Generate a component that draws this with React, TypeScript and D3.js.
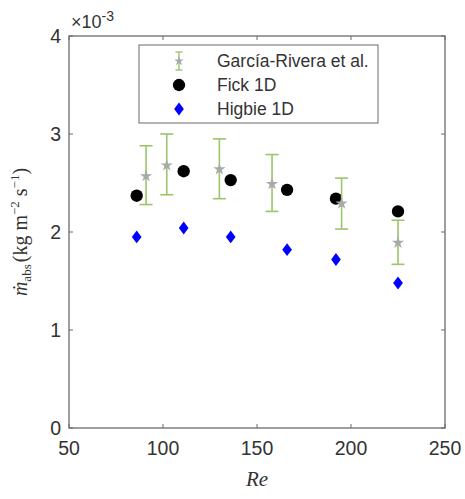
import React from "react";
import * as d3 from "d3";

// ---- data (values in units of 1e-3 kg m^-2 s^-1) ----
const reGR = [91, 102, 130, 158, 195, 225];
const grMean = [2.57, 2.68, 2.64, 2.49, 2.29, 1.89];
const grLow = [2.28, 2.38, 2.34, 2.21, 2.03, 1.67];
const grHigh = [2.88, 3.0, 2.95, 2.79, 2.55, 2.12];

const reModel = [86, 111, 136, 166, 192, 225];
const fick1D = [2.37, 2.62, 2.53, 2.43, 2.34, 2.21];
const higbie1D = [1.95, 2.04, 1.95, 1.82, 1.72, 1.48];

const xTicks = [50, 100, 150, 200, 250];
const yTicks = [0, 1, 2, 3, 4];
const legendLabels = ["García-Rivera et al.", "Fick 1D", "Higbie 1D"];

const W = 465;
const H = 499;
const M = { left: 69, right: 445, top: 36, bottom: 428 };

export default function App() {
  const x = d3.scaleLinear().domain([50, 250]).range([M.left, M.right]);
  const y = d3.scaleLinear().domain([0, 4]).range([M.bottom, M.top]);

  const axisColor = "#6b6b6b";
  const green = "#9cc46c";
  const star = d3.symbol().type(d3.symbolStar).size(46)() as string;
  const circle = d3.symbol().type(d3.symbolCircle).size(120)() as string;
  const diamond = d3.symbol().type(d3.symbolDiamond2).size(74)() as string;
  const diaT = "scale(0.9,1.2)";
  const tickLen = 4;
  const capW = 6.5;
  const sans = "'Liberation Sans', Arial, Helvetica, sans-serif";
  const serif = "'Liberation Serif', 'Times New Roman', serif";

  const legX = 139, legY = 45, legW = 239, legH = 78;
  const rowY = [61, 85, 109];

  return (
    <div style={{ position: "fixed", left: 0, top: 0 }}>
      <svg width={W} height={H} style={{ display: "block", background: "#fff" }}>
        {/* box */}
        <rect x={M.left} y={M.top} width={M.right - M.left} height={M.bottom - M.top}
          fill="none" stroke={axisColor} strokeWidth={1.3} />
        {/* x ticks */}
        {xTicks.map((t) => (
          <g key={"xt" + t}>
            <line x1={x(t)} x2={x(t)} y1={M.bottom} y2={M.bottom - tickLen} stroke={axisColor} strokeWidth={1} />
            <line x1={x(t)} x2={x(t)} y1={M.top} y2={M.top + tickLen} stroke={axisColor} strokeWidth={1} />
            <text x={x(t)} y={455} textAnchor="middle" fontFamily={sans} fontSize={19.5} fill="#333">{t}</text>
          </g>
        ))}
        {/* y ticks */}
        {yTicks.map((t) => (
          <g key={"yt" + t}>
            <line x1={M.left} x2={M.left + tickLen} y1={y(t)} y2={y(t)} stroke={axisColor} strokeWidth={1} />
            <line x1={M.right} x2={M.right - tickLen} y1={y(t)} y2={y(t)} stroke={axisColor} strokeWidth={1} />
            <text x={61} y={y(t)} dy="0.36em" textAnchor="end" fontFamily={sans} fontSize={19.5} fill="#333">{t}</text>
          </g>
        ))}
        {/* exponent */}
        <text x={71} y={28} fontFamily={sans} fontSize={18} fill="#333">
          ×10<tspan dy={-7} fontSize={14}>-3</tspan>
        </text>
        {/* x label */}
        <text x={257} y={486} textAnchor="middle" fontFamily={serif} fontStyle="italic" fontSize={21} fill="#333">Re</text>
        {/* y label */}
        <text transform={`translate(27,${(M.top + M.bottom) / 2}) rotate(-90)`} textAnchor="middle"
          fontFamily={serif} fontSize={20} fill="#333">
          <tspan fontStyle="italic">ṁ</tspan>
          <tspan fontSize={13} dy={4}>abs</tspan>
          <tspan dy={-4} dx={2}>(kg m</tspan>
          <tspan fontSize={13} dy={-8}>−2</tspan>
          <tspan dy={8}> s</tspan>
          <tspan fontSize={13} dy={-8}>−1</tspan>
          <tspan dy={8}>)</tspan>
        </text>

        {/* Fick 1D */}
        {reModel.map((r, i) => (
          <path key={"f" + i} d={circle} transform={`translate(${x(r)},${y(fick1D[i])})`} fill="#000" />
        ))}
        {/* Higbie 1D */}
        {reModel.map((r, i) => (
          <path key={"h" + i} d={diamond} transform={`translate(${x(r)},${y(higbie1D[i])}) ${diaT}`} fill="#0000ff" />
        ))}
        {/* García-Rivera error bars */}
        {reGR.map((r, i) => (
          <g key={"g" + i} stroke={green} strokeWidth={1.6}>
            <line x1={x(r)} x2={x(r)} y1={y(grLow[i])} y2={y(grHigh[i])} />
            <line x1={x(r) - capW} x2={x(r) + capW} y1={y(grLow[i])} y2={y(grLow[i])} />
            <line x1={x(r) - capW} x2={x(r) + capW} y1={y(grHigh[i])} y2={y(grHigh[i])} />
            <path d={star} transform={`translate(${x(r)},${y(grMean[i])})`} fill="#a9a9a9" stroke="none" />
          </g>
        ))}

        {/* legend */}
        <rect x={legX} y={legY} width={legW} height={legH} fill="#fff" stroke={axisColor} strokeWidth={1} />
        <g stroke={green} strokeWidth={1.4}>
          <line x1={179} x2={179} y1={rowY[0] - 9} y2={rowY[0] + 9} />
          <line x1={175.5} x2={182.5} y1={rowY[0] - 9} y2={rowY[0] - 9} />
          <line x1={175.5} x2={182.5} y1={rowY[0] + 9} y2={rowY[0] + 9} />
        </g>
        <path d={star} transform={`translate(179,${rowY[0]}) scale(0.8)`} fill="#a9a9a9" />
        <path d={circle} transform={`translate(179,${rowY[1]})`} fill="#000" />
        <path d={diamond} transform={`translate(179,${rowY[2]}) ${diaT}`} fill="#0000ff" />
        {legendLabels.map((l, i) => (
          <text key={l} x={217} y={rowY[i]} dy="0.36em" fontFamily={sans} fontSize={17.5} fill="#333">{l}</text>
        ))}
      </svg>
    </div>
  );
}
